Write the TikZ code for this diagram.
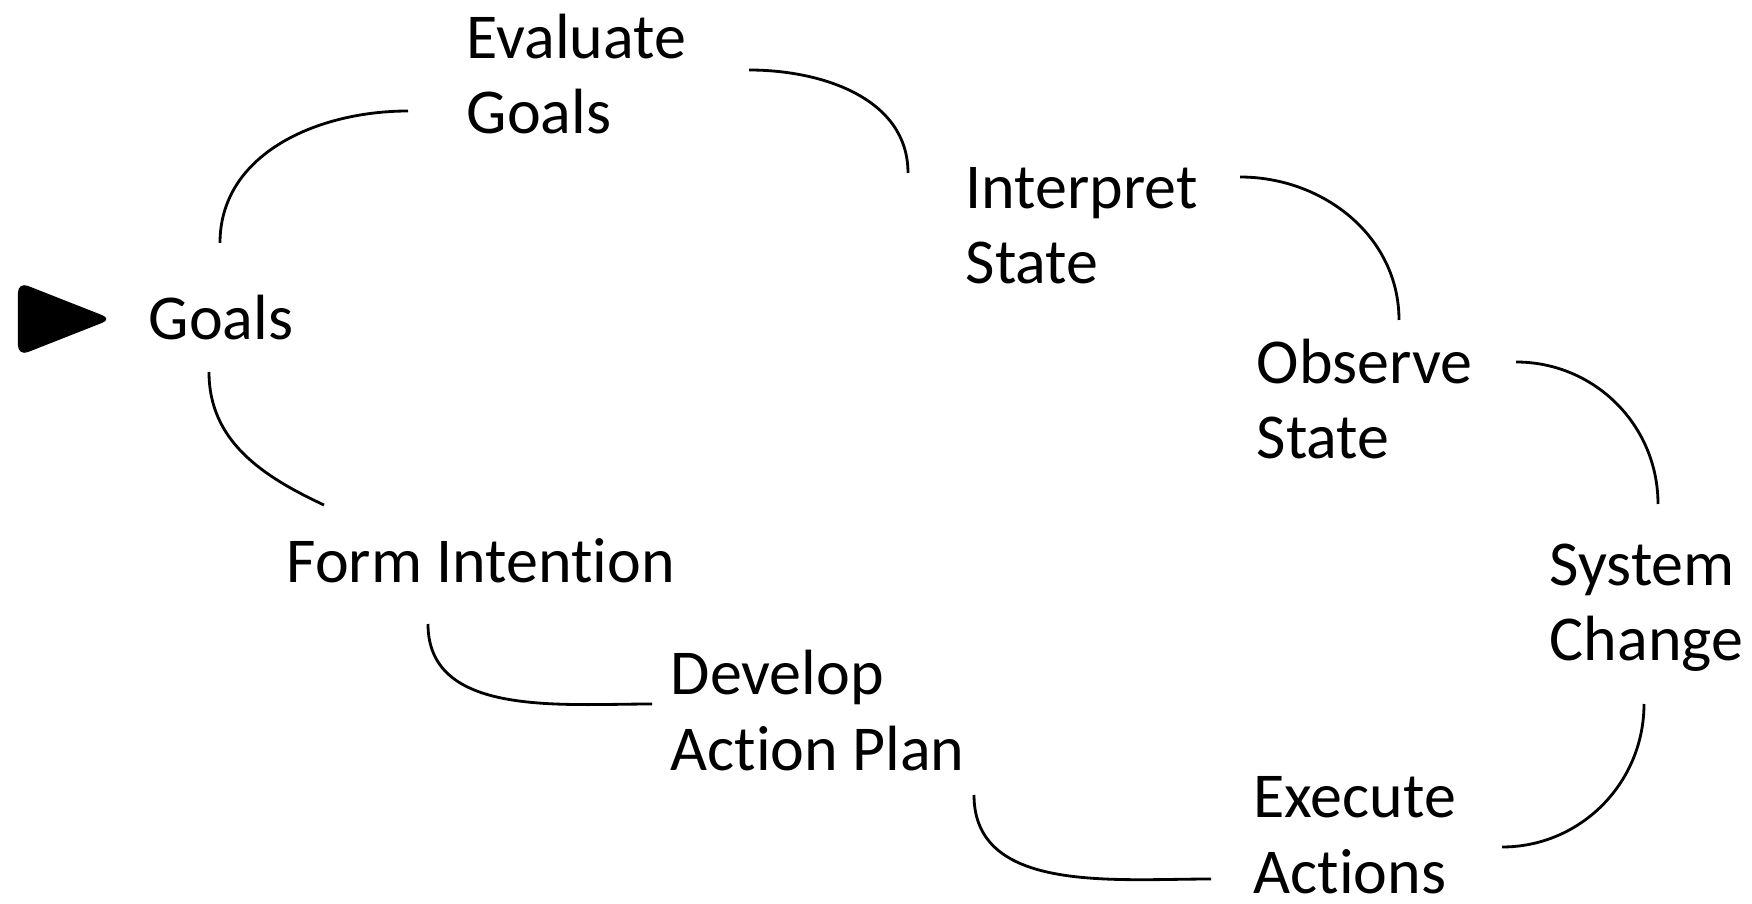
\documentclass[tikz,border=0pt]{standalone}
\usepackage{fontspec}
\setmainfont[Ligatures=NoCommon]{Carlito}
\usetikzlibrary{calc,positioning}

\begin{document}
\begin{tikzpicture}[
	stage/.style={anchor=base west,inner sep=0pt,align=left,font=\fontsize{18.2}{21.5}\selectfont},
	arcline/.style={line width=0.8pt}]
	\useasboundingbox (0,0) rectangle (17.52,-9.04);

	\node[stage] (goals)	at (1.48,-3.40)		{Goals};
	\node[stage] (evalg)	at (4.66,-1.34)		{Evaluate\\Goals};
	\node[stage] (interp)	at (9.65,-2.84)		{Interpret\\State};
	\node[stage] (observ)	at (12.56,-4.59)	{Observe\\State};
	\node[stage] (syschg)	at (15.49,-6.61)	{System\\Change};
	\node[stage] (execact)	at (12.53,-8.93)	{Execute\\Actions};
	\node[stage] (devplan)	at (6.70,-7.70)		{Develop\\Action Plan};
	\node[stage] (formint)	at (2.86,-5.82)		{Form Intention};

	\fill[rounded corners=3pt] (0.18,-2.82) -- (1.12,-3.19) -- (0.18,-3.56) -- cycle;

	\draw[arcline] ([shift={(0.72,0.97)}]goals.base west) to[out=90,in=180] ([shift={(-0.58,0.23)}]evalg.base west);
	\draw[arcline] ([shift={(2.83,0.64)}]evalg.base west) to[out=0,in=90] ([shift={(-0.57,1.11)}]interp.base west);
	\draw[arcline] ([shift={(2.75,1.07)}]interp.base west) to[out=0,in=90] ([shift={(1.43,1.39)}]observ.base west);
	\draw[arcline] ([shift={(2.60,0.97)}]observ.base west) to[out=0,in=90] ([shift={(1.09,1.57)}]syschg.base west);
	\draw[arcline] ([shift={(0.95,-0.43)}]syschg.base west) to[out=-90,in=0] ([shift={(2.49,0.46)}]execact.base west);
	\draw[arcline] ([shift={(3.04,-0.25)}]devplan.base west) to[out=-90,in=180] ([shift={(-0.42,0.14)}]execact.base west);
	\draw[arcline] ([shift={(1.42,-0.42)}]formint.base west) to[out=-90,in=180] ([shift={(-0.18,0.66)}]devplan.base west);
	\draw[arcline] ([shift={(0.61,-0.32)}]goals.base west) to[out=-90,in=155] ([shift={(0.38,0.77)}]formint.base west);
\end{tikzpicture}
\end{document}
